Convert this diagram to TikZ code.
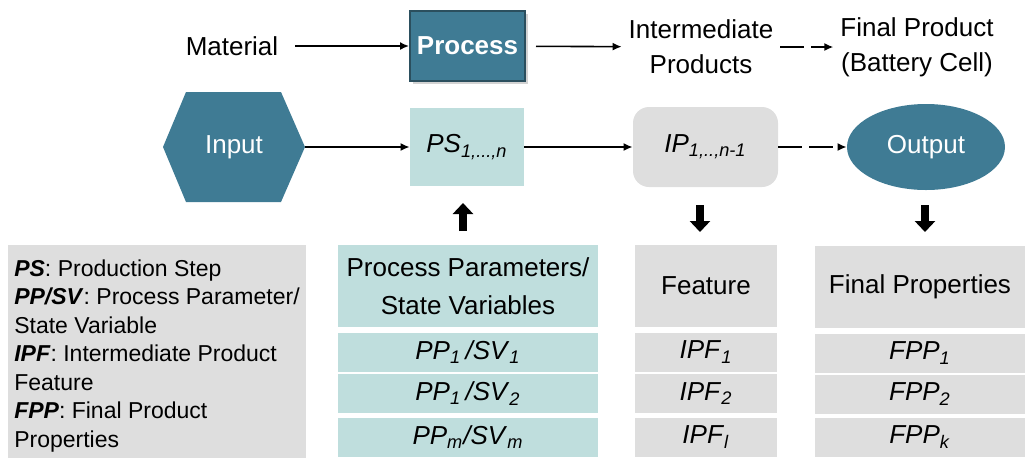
\documentclass[tikz,border=0pt]{standalone}
\usepackage{fontspec}
\setmainfont{Liberation Sans}
\usetikzlibrary{shapes.geometric,arrows.meta,shadows}

\definecolor{tealdark}{HTML}{3F7B94}
\definecolor{tealline}{HTML}{2B4F5E}
\definecolor{teallight}{HTML}{BFDEDD}
\definecolor{greylight}{HTML}{DEDEDE}

\newcommand{\isub}[2]{\textit{#1}\textsubscript{\textit{#2}}}

\begin{document}
\begin{tikzpicture}[x=0.5pt, y=-0.5pt]
	\tikzset{txt/.style={font=\fontsize{13}{17.5}\selectfont, align=center},
		proc/.style={txt, rectangle, fill=tealdark, draw=tealline, line width=1pt, text=white, font=\fontsize{13}{16}\selectfont\bfseries, minimum width=57.5pt, minimum height=35pt, drop shadow={opacity=0.35, shadow xshift=1.5pt, shadow yshift=-1.5pt}},
		hexa/.style={txt, rectangle, minimum width=71pt, minimum height=55pt, inner sep=0pt, text=white,
			path picture={\fill[tealdark] (path picture bounding box.west) -- ([xshift=11.5pt]path picture bounding box.north west) -- ([xshift=-12pt]path picture bounding box.north east) -- (path picture bounding box.east) -- ([xshift=-12pt]path picture bounding box.south east) -- ([xshift=11.5pt]path picture bounding box.south west) -- cycle;}},
		ps/.style={txt, rectangle, fill=teallight, minimum width=57pt, minimum height=39pt},
		ip/.style={txt, rectangle, rounded corners=8pt, fill=greylight, minimum width=72.5pt, minimum height=40pt},
		outp/.style={txt, ellipse, fill=tealdark, text=white, inner sep=0pt, minimum width=79pt, minimum height=43pt},
		legend/.style={rectangle, fill=greylight, align=left, font=\fontsize{11.5}{14.25}\selectfont, minimum width=148pt, minimum height=111pt},
		ppcell/.style={txt, rectangle, fill=teallight, inner sep=0pt, minimum width=130pt, minimum height=19.5pt},
		ftcell/.style={txt, rectangle, fill=greylight, inner sep=0pt, minimum width=71pt, minimum height=19.5pt},
		fpcell/.style={txt, rectangle, fill=greylight, inner sep=0pt, minimum width=105pt, minimum height=19.5pt},
		head/.style={minimum height=41pt, font=\fontsize{13}{19}\selectfont},
		arr/.style={-{Latex[length=4.5pt, width=4pt]}, line width=0.8pt},
		dsh/.style={dash pattern=on 12pt off 3.5pt},
		fat/.style={-{Triangle[length=5.5pt, width=10pt]}, line width=4pt}};

	\useasboundingbox (0,0) rectangle (1025,457);

	% top line
	\node[txt] (mat) at (232,46) {Material};
	\node[proc] (proc) at (467.5,46) {Process};
	\node[txt] (inter) at (701,47) {Intermediate\\Products};
	\node[txt] (final) at (917,47) {Final Product\\(Battery Cell)};

	% process chain
	\node[hexa] (inp) at (234,147) {Input};
	\node[ps] (ps) at (467,147) {\isub{PS}{1,...,n}};
	\node[ip] (ip) at (705.5,147) {\isub{IP}{1,..,n-1}};
	\node[outp] (out) at (926,147) {Output};

	\draw[arr, shorten <=5pt] (mat) to (proc);
	\draw[arr, shorten <=5pt] (proc) to (inter);
	\draw[arr, dsh] (inter) to (final);

	\draw[arr] (inp) to (ps);
	\draw[arr] (ps) to (ip);
	\draw[arr, dsh] (ip) to (out);

	% legend
	\node[legend] (leg) at (157,356) {\textbf{\textit{PS}}: Production Step\\
		\textbf{\textit{PP/SV}}: Process Parameter/\\
		State Variable\\
		\textbf{\textit{IPF}}: Intermediate Product\\
		Feature\\
		\textbf{\textit{FPP}}: Final Product\\
		Properties};

	% tables
	\node[ppcell, head] (pp0) at (468,286) {Process Parameters/\\State Variables};
	\node[ppcell] (pp1) at (468,352) {\isub{PP}{1}\,\textit{/SV}\textsubscript{\textit{1}}};
	\node[ppcell] (pp2) at (468,393.5) {\isub{PP}{1}\,\textit{/SV}\textsubscript{\textit{2}}};
	\node[ppcell] (pp3) at (468,437) {\isub{PP}{m}\textit{/SV}\textsubscript{\textit{m}}};

	\node[ftcell, head] (ft0) at (706,286) {Feature};
	\node[ftcell] (ft1) at (706,352) {\isub{IPF}{1}};
	\node[ftcell] (ft2) at (706,393.5) {\isub{IPF}{2}};
	\node[ftcell] (ft3) at (706,437) {\isub{IPF}{l}};

	\node[fpcell, head] (fp0) at (920,287) {Final Properties};
	\node[fpcell] (fp1) at (920,353) {\isub{FPP}{1}};
	\node[fpcell] (fp2) at (920,394) {\isub{FPP}{2}};
	\node[fpcell] (fp3) at (920,437) {\isub{FPP}{k}};

	% block arrows
	\coordinate (u0) at (463,231);
	\coordinate (u1) at (463,203);
	\coordinate (d0) at (700,205);
	\coordinate (d1) at (700,232);
	\coordinate (e0) at (925,205);
	\coordinate (e1) at (925,232);

	\draw[fat] (u0) -- (u1);
	\draw[fat] (d0) -- (d1);
	\draw[fat] (e0) -- (e1);
\end{tikzpicture}
\end{document}
